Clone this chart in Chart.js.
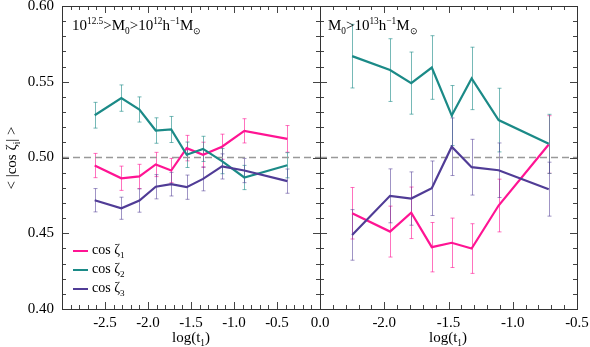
<!DOCTYPE html>
<html>
<head>
<meta charset="utf-8">
<script src="https://cdn.jsdelivr.net/npm/chart.js@4.4.1/dist/chart.umd.min.js"></script>
<style>
  body { margin: 0; background: #fff; }
  #wrap { position: relative; width: 590px; height: 347px; font-family: 'Liberation Serif', serif; color: #000; }
  canvas { position: absolute; left: 0; top: 0; }
  .lbl { position: absolute; white-space: nowrap; font-size: 15px; line-height: 1; color: #000; font-weight: normal; }
  .lbl sup, .lbl sub { font-size: 0.62em; line-height: 0; }
  .ytitle { position: absolute; left: -29px; top: 150px; width: 80px; height: 16px; text-align: center;
            font-size: 15px; line-height: 16px; color: #000; white-space: nowrap; transform: rotate(-90deg); }
  .ytitle sub { font-size: 0.62em; line-height: 0; }
  .leg { position: absolute; left: 73px; font-size: 14px; line-height: 1; white-space: nowrap; }
  .leg span { display: inline-block; width: 15px; height: 2.5px; vertical-align: middle; margin-right: 4px; }
  .leg sub { font-size: 0.65em; line-height: 0; }
</style>
</head>
<body>
<div id="wrap">
  <canvas id="left" width="590" height="347"></canvas>
  <canvas id="right" width="590" height="347"></canvas>

  <div class="lbl" style="left:72px; top:18px;">10<sup>12.5</sup>&gt;M<sub>0</sub>&gt;10<sup>12</sup>h<sup>&minus;1</sup>M<sub>&#8857;</sub></div>
  <div class="lbl" style="left:328px; top:18px;">M<sub>0</sub>&gt;10<sup>13</sup>h<sup>&minus;1</sup>M<sub>&#8857;</sub></div>

  <div class="lbl" style="left:191px; top:330px; transform:translateX(-50%);">log(t<sub>1</sub>)</div>
  <div class="lbl" style="left:448px; top:330px; transform:translateX(-50%);">log(t<sub>1</sub>)</div>
  <div class="ytitle">&lt; |cos &zeta;<sub>i</sub>| &gt;</div>

  <div class="leg" style="top:243px;"><span style="background:#ff1493"></span>cos &zeta;<sub>1</sub></div>
  <div class="leg" style="top:262px;"><span style="background:#1b8a87"></span>cos &zeta;<sub>2</sub></div>
  <div class="leg" style="top:281px;"><span style="background:#503c96"></span>cos &zeta;<sub>3</sub></div>
</div>
<script>
// left panel: 10^12.5 > M0 > 10^12
const leftX = [-2.62, -2.31, -2.10, -1.91, -1.73, -1.55, -1.36, -1.14, -0.88, -0.38];
const leftCos1 = [0.4947, 0.4863, 0.4875, 0.4954, 0.4914, 0.5062, 0.5018, 0.5071, 0.5176, 0.5123];
const leftCos1Err = [0.008, 0.008, 0.008, 0.008, 0.008, 0.0084, 0.0083, 0.0083, 0.008, 0.0088];
const leftCos2 = [0.5279, 0.5392, 0.5317, 0.5178, 0.5185, 0.5018, 0.5057, 0.4976, 0.4868, 0.4949];
const leftCos2Err = [0.0085, 0.0087, 0.0083, 0.0084, 0.0086, 0.0084, 0.0083, 0.0083, 0.008, 0.0083];
const leftCos3 = [0.4718, 0.4665, 0.4716, 0.4807, 0.4824, 0.4804, 0.4859, 0.4941, 0.4914, 0.4844];
const leftCos3Err = [0.0077, 0.0073, 0.0077, 0.008, 0.0078, 0.008, 0.0079, 0.0083, 0.008, 0.008];

// right panel: M0 > 10^13
const rightX = [-2.25, -1.955, -1.79, -1.63, -1.475, -1.32, -1.11, -0.72];
const rightCos1 = [0.4632, 0.4511, 0.4635, 0.4408, 0.4437, 0.4399, 0.4683, 0.5086];
const rightCos1Err = [0.017, 0.0168, 0.017, 0.0163, 0.0163, 0.0164, 0.0174, 0.019];
const rightCos2 = [0.5669, 0.5577, 0.5491, 0.5594, 0.5277, 0.5522, 0.5247, 0.509];
const rightCos2Err = [0.021, 0.0207, 0.0205, 0.021, 0.0198, 0.0206, 0.021, 0.0195];
const rightCos3 = [0.4489, 0.4747, 0.4729, 0.4797, 0.5071, 0.4936, 0.4916, 0.4791];
const rightCos3Err = [0.0167, 0.0178, 0.0176, 0.018, 0.019, 0.0184, 0.018, 0.0178];

const yMin = 0.40, yMax = 0.60;
const refLine = 0.5;

const colors = ['#ff1493', '#1b8a87', '#503c96'];
const barColors = ['rgba(255,20,147,0.6)', 'rgba(27,138,135,0.6)', 'rgba(80,60,150,0.55)'];

Chart.defaults.font.family = "'Liberation Serif', serif";
Chart.defaults.font.size = 15;
Chart.defaults.color = '#000';

const toPoints = (xs, ys) => xs.map((x, i) => ({ x: x, y: ys[i] }));

// error bars with small caps, drawn under the lines
const errorBars = {
  id: 'errorBars',
  beforeDatasetsDraw(chart) {
    const { ctx, scales: { y } } = chart;
    ctx.save();
    ctx.lineWidth = 1;
    chart.data.datasets.forEach((ds, i) => {
      if (!ds.errors) return;
      ctx.strokeStyle = ds.barColor;
      chart.getDatasetMeta(i).data.forEach((pt, j) => {
        const v = ds.data[j].y, e = ds.errors[j];
        const px = Math.round(pt.x) + 0.5;
        const top = y.getPixelForValue(v + e), bot = y.getPixelForValue(v - e);
        ctx.beginPath();
        ctx.moveTo(px, top); ctx.lineTo(px, bot);
        ctx.moveTo(px - 2, top); ctx.lineTo(px + 2, top);
        ctx.moveTo(px - 2, bot); ctx.lineTo(px + 2, bot);
        ctx.stroke();
      });
    });
    ctx.restore();
  }
};

// box round the plot with inward ticks on all four sides
const frameTicks = {
  id: 'frameTicks',
  afterDatasetsDraw(chart) {
    const { ctx, chartArea: a, scales: { x, y } } = chart;
    ctx.save();
    ctx.strokeStyle = '#444';
    ctx.lineWidth = 1;
    ctx.beginPath();
    const k0 = Math.round(x.min * 10), k1 = Math.round(x.max * 10);
    for (let k = k0; k <= k1; k++) {
      const px = Math.round(x.getPixelForValue(k / 10)) + 0.5;
      const len = k % 5 === 0 ? 7 : 4;
      ctx.moveTo(px, a.bottom); ctx.lineTo(px, a.bottom - len);
      ctx.moveTo(px, a.top); ctx.lineTo(px, a.top + len);
    }
    const m0 = Math.round(y.min * 100), m1 = Math.round(y.max * 100);
    for (let m = m0; m <= m1; m++) {
      const py = Math.round(y.getPixelForValue(m / 100)) + 0.5;
      const len = m % 5 === 0 ? 7 : 4;
      ctx.moveTo(a.left, py); ctx.lineTo(a.left + len, py);
      ctx.moveTo(a.right, py); ctx.lineTo(a.right - len, py);
    }
    ctx.stroke();
    ctx.strokeStyle = '#333';
    ctx.strokeRect(Math.round(a.left) + 0.5, Math.round(a.top) + 0.5,
      Math.round(a.right - a.left), Math.round(a.bottom - a.top));
    ctx.restore();
  }
};

function makeDatasets(xs, series, errs, xMin, xMax) {
  const sets = series.map((ys, i) => ({
    data: toPoints(xs, ys),
    errors: errs[i],
    barColor: barColors[i],
    borderColor: colors[i],
    borderWidth: 2.2,
    pointRadius: 0,
    fill: false,
    tension: 0,
    order: 3 - i
  }));
  sets.push({
    data: [{ x: xMin, y: refLine }, { x: xMax, y: refLine }],
    borderColor: '#999',
    borderWidth: 1.6,
    borderDash: [7, 4],
    pointRadius: 0,
    order: 10
  });
  return sets;
}

function makeChart(canvasId, opts) {
  return new Chart(document.getElementById(canvasId), {
    type: 'line',
    data: { datasets: makeDatasets(opts.xs, opts.series, opts.errs, opts.xMin, opts.xMax) },
    options: {
      responsive: false,
      animation: false,
      events: [],
      layout: { padding: opts.padding },
      plugins: { legend: { display: false }, tooltip: { enabled: false } },
      scales: {
        x: {
          type: 'linear',
          min: opts.xMin,
          max: opts.xMax,
          border: { display: false },
          grid: { display: false, drawTicks: false },
          ticks: {
            color: '#000',
            stepSize: 0.5,
            autoSkip: false,
            maxRotation: 0,
            padding: 5,
            callback: v => (Math.abs(v - opts.hideTick) < 1e-6 ? '' : v.toFixed(1))
          },
          afterFit: s => { s.height = 38; s.paddingLeft = 0; s.paddingRight = 0; }
        },
        y: {
          display: opts.showY,
          min: yMin,
          max: yMax,
          border: { display: false },
          grid: { display: false, drawTicks: false },
          ticks: { color: '#000', stepSize: 0.05, padding: 8, callback: v => v.toFixed(2) },
          afterFit: s => { s.width = opts.showY ? 62 : 0; s.paddingTop = 0; s.paddingBottom = 0; }
        }
      }
    },
    plugins: [errorBars, frameTicks]
  });
}

makeChart('left', {
  xs: leftX,
  series: [leftCos1, leftCos2, leftCos3],
  errs: [leftCos1Err, leftCos2Err, leftCos3Err],
  xMin: -3.0, xMax: 0.0, hideTick: -3.0,
  showY: true,
  padding: { left: 0, right: 270, top: 6, bottom: 0 }
});

makeChart('right', {
  xs: rightX,
  series: [rightCos1, rightCos2, rightCos3],
  errs: [rightCos1Err, rightCos2Err, rightCos3Err],
  xMin: -2.5, xMax: -0.5, hideTick: -2.5,
  showY: false,
  padding: { left: 320, right: 13, top: 6, bottom: 0 }
});
</script>
</body>
</html>
